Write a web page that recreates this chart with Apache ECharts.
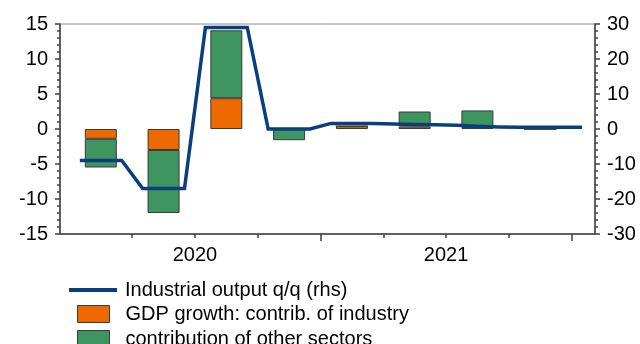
<!DOCTYPE html>
<html>
<head>
<meta charset="utf-8">
<script src="https://cdn.jsdelivr.net/npm/echarts@6/dist/echarts.min.js"></script>
<style>
  html, body { margin: 0; padding: 0; background: #fff; }
  #chart { width: 640px; height: 344px; }
</style>
</head>
<body>
<div id="chart"></div>
<script>
// Monthly timeline (x positions are month indexes, Jan 2020 = 0)
const months = [
  'Jan 2020','Feb 2020','Mar 2020','Apr 2020','May 2020','Jun 2020',
  'Jul 2020','Aug 2020','Sep 2020','Oct 2020','Nov 2020','Dec 2020',
  'Jan 2021','Feb 2021','Mar 2021','Apr 2021','May 2021','Jun 2021',
  'Jul 2021','Aug 2021','Sep 2021','Oct 2021','Nov 2021','Dec 2021',
  'Jan 2022'
];
const years = ['2020', '2021'];
const quarters = ['Q1 2020','Q2 2020','Q3 2020','Q4 2020','Q1 2021','Q2 2021','Q3 2021','Q4 2021'];

// GDP growth q/q, contributions in percentage points (left axis)
const industryContrib = [-1.4, -3.0, 4.4, 0.0, 0.4, 0.35, 0.15, 0.0];
const otherSectors    = [-4.1, -9.0, 9.7, -1.6, 0.0, 2.15, 2.5, 0.0];

// Industrial output q/q, % (right axis), monthly readings
const industrialOutput = [
  -9, -9, -9, -17, -17, -17, 29, 29, 29, 0, 0, 0,
  1.6, 1.6, 1.6, 1.4, 1.3, 1.2, 1.05, 0.8, 0.6, 0.5, 0.5, 0.5,
  0.5
];

const leftTicks = { min: -15, max: 15, step: 5 };
const rightTicks = { min: -30, max: 30, step: 10 };

const names = {
  line: 'Industrial output q/q (rhs)',
  industry: 'GDP growth: contrib. of industry',
  other: 'contribution of other sectors'
};

// Layout of the plot: the month scale runs a little past the quarters on each side
const PLOT = { left: 60, right: 45, top: 24, bottom: 110, width: 640 - 60 - 45 };
const xMin = -0.95;
const xMax = months.length - 1 + 0.62;
const pxPerMonth = PLOT.width / (xMax - xMin);

// Tick positions on the month scale
const quarterEdges = [];
const yearEdges = [];
for (let i = 1; i <= quarters.length; i++) {
  const edge = i * 3 - 0.5;
  if (i % 4 === 0) yearEdges.push(edge); else quarterEdges.push(edge);
}
const yearMid = years.map((y, i) => i * 12 + 5.5);

// The bar grid covers exactly the quarters (Jan 2020 .. Dec 2021)
const barGridLeft = PLOT.left + (-0.5 - xMin) * pxPerMonth;
const barGridRight = PLOT.right + (xMax - (quarters.length * 3 - 0.5)) * pxPerMonth;

const FONT = "'Liberation Sans', Arial, sans-serif";
const FS = 20;
const AXIS_COLOR = '#404040';

const chart = echarts.init(document.getElementById('chart'), null, { renderer: 'canvas' });

const baseX = {
  type: 'value',
  min: xMin,
  max: xMax,
  gridIndex: 0,
  position: 'bottom',
  splitLine: { show: false }
};

chart.setOption({
  animation: false,
  backgroundColor: '#fff',
  textStyle: { fontFamily: FONT },
  grid: [
    {
      left: PLOT.left, right: PLOT.right, top: PLOT.top, bottom: PLOT.bottom,
      show: true, borderColor: '#8c8c8c', borderWidth: 1,
      backgroundColor: 'transparent'
    },
    {
      left: barGridLeft, right: barGridRight, top: PLOT.top, bottom: PLOT.bottom
    }
  ],
  xAxis: [
    Object.assign({}, baseX, {
      axisLine: { show: true, onZero: false, lineStyle: { color: AXIS_COLOR, width: 1.5 } },
      axisTick: { show: true, customValues: quarterEdges, length: 4, lineStyle: { color: AXIS_COLOR, width: 1.5 } },
      axisLabel: {
        show: true,
        customValues: yearMid,
        formatter: v => years[yearMid.indexOf(v)] || '',
        color: '#000', fontSize: FS, fontFamily: FONT, margin: 11
      }
    }),
    Object.assign({}, baseX, {
      axisLine: { show: false, onZero: false },
      axisTick: { show: true, customValues: yearEdges, length: 7, lineStyle: { color: AXIS_COLOR, width: 1.5 } },
      axisLabel: { show: false }
    }),
    {
      type: 'category', gridIndex: 1, data: quarters, boundaryGap: true,
      axisLine: { show: false }, axisTick: { show: false }, axisLabel: { show: false },
      splitLine: { show: false }
    }
  ],
  yAxis: [
    {
      type: 'value', position: 'left', gridIndex: 0,
      min: leftTicks.min, max: leftTicks.max, interval: leftTicks.step,
      splitLine: { show: false },
      axisLine: { show: true, onZero: false, lineStyle: { color: AXIS_COLOR, width: 1.5 } },
      axisTick: { show: true, length: 5, lineStyle: { color: AXIS_COLOR, width: 1.5 } },
      minorTick: { show: true, splitNumber: 5, length: 3, lineStyle: { color: AXIS_COLOR, width: 1.5 } },
      axisLabel: { color: '#000', fontSize: FS, fontFamily: FONT, margin: 12 }
    },
    {
      type: 'value', position: 'right', gridIndex: 0,
      min: rightTicks.min, max: rightTicks.max, interval: rightTicks.step,
      splitLine: { show: false },
      axisLine: { show: true, onZero: false, lineStyle: { color: AXIS_COLOR, width: 1.5 } },
      axisTick: { show: true, length: 5, lineStyle: { color: AXIS_COLOR, width: 1.5 } },
      minorTick: { show: true, splitNumber: 5, length: 3, lineStyle: { color: AXIS_COLOR, width: 1.5 } },
      axisLabel: { color: '#000', fontSize: FS, fontFamily: FONT, margin: 12 }
    },
    {
      type: 'value', gridIndex: 1,
      min: leftTicks.min, max: leftTicks.max, interval: leftTicks.step,
      show: false, splitLine: { show: false }
    }
  ],
  legend: [
    {
      orient: 'vertical', left: 69, top: 280, padding: 0, height: 40,
      itemWidth: 48, itemHeight: 4,
      textStyle: { color: '#000', fontSize: FS, fontFamily: FONT, padding: [0, 0, 0, 3] },
      data: [{ name: names.line, icon: 'rect' }]
    },
    {
      orient: 'vertical', left: 77, top: 304, padding: 0, height: 80,
      itemWidth: 32, itemHeight: 17, itemGap: 5,
      textStyle: { color: '#000', fontSize: FS, fontFamily: FONT, padding: [0, 0, 0, 11] },
      data: [
        { name: names.industry, icon: 'rect', itemStyle: { borderColor: '#3a3a3a', borderWidth: 1 } },
        { name: names.other, icon: 'rect', itemStyle: { borderColor: '#3a3a3a', borderWidth: 1 } }
      ]
    }
  ],
  series: [
    {
      name: names.industry,
      type: 'bar',
      stack: 'gdp',
      stackStrategy: 'samesign',
      xAxisIndex: 2, yAxisIndex: 2,
      barWidth: 32,
      itemStyle: { color: '#ee6a00', borderColor: '#3a3a3a', borderWidth: 1 },
      data: industryContrib,
      z: 2
    },
    {
      name: names.other,
      type: 'bar',
      stack: 'gdp',
      stackStrategy: 'samesign',
      xAxisIndex: 2, yAxisIndex: 2,
      barWidth: 32,
      itemStyle: { color: '#3f9560', borderColor: '#3a3a3a', borderWidth: 1 },
      data: otherSectors,
      z: 2
    },
    {
      name: names.line,
      type: 'line',
      xAxisIndex: 0, yAxisIndex: 1,
      showSymbol: false,
      symbol: 'none',
      lineStyle: { color: '#0a3f7d', width: 3.5, join: 'miter' },
      itemStyle: { color: '#0a3f7d' },
      data: industrialOutput.map((v, i) => [i, v]),
      z: 5
    }
  ]
});
</script>
</body>
</html>
